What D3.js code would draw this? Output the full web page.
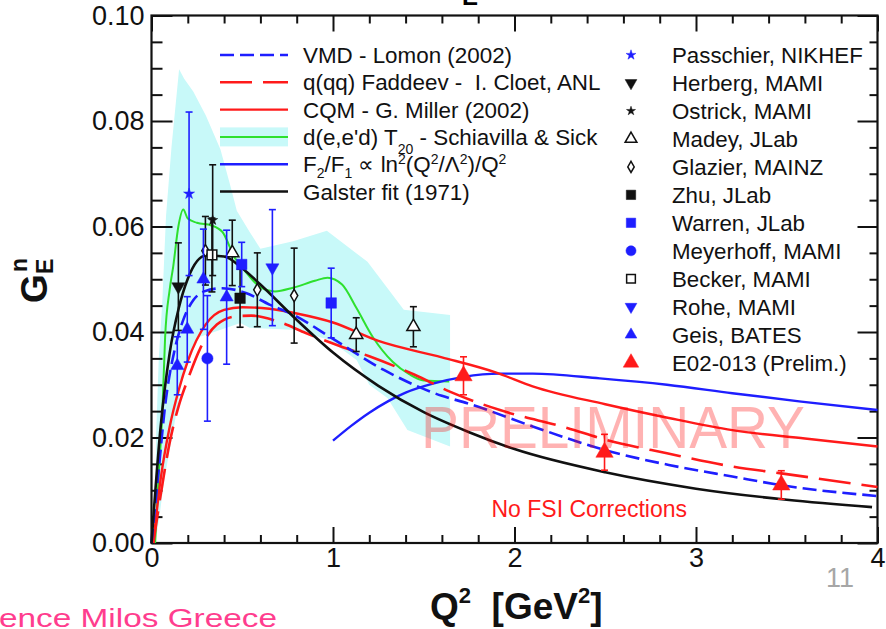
<!DOCTYPE html>
<html>
<head>
<meta charset="utf-8">
<script src="https://cdn.jsdelivr.net/npm/d3@7"></script>
<style>
  html, body { margin: 0; padding: 0; background: #fff; overflow: hidden; }
  text { font-family: "Liberation Sans", Arial, Helvetica, sans-serif; white-space: pre; }
</style>
</head>
<body>
<svg id="chart" width="886" height="629"></svg>
<script>
// ---- axis ticks ----
const xTicks = [0, 1, 2, 3, 4];
const xTickLabels = ["0", "1", "2", "3", "4"];
const yTicks = [0, 0.02, 0.04, 0.06, 0.08, 0.10];
const yTickLabels = ["0.00", "0.02", "0.04", "0.06", "0.08", "0.10"];

// ---- theory curves: [Q^2 (GeV^2), G_E^n] ----
const vmdLomon = [[0,0],[0.04,0.014],[0.075,0.026],[0.13,0.037],[0.175,0.0423],[0.23,0.046],[0.29,0.0477],[0.39,0.0483],[0.52,0.0474],[0.65,0.0452],[0.78,0.0433],[1.0,0.0387],[1.28,0.0328],[1.6,0.0279],[1.74,0.0265],[2.1,0.0221],[2.5,0.0176],[2.85,0.0148],[3.2,0.0126],[3.5,0.0108],[4.0,0.0089]];
const faddeevCloet = [[0.01,0],[0.05,0.009],[0.1,0.019],[0.15,0.026],[0.2,0.031],[0.27,0.037],[0.36,0.0414],[0.47,0.043],[0.55,0.0431],[0.72,0.0417],[0.85,0.0398],[1.04,0.0373],[1.2,0.0354],[1.45,0.0319],[1.65,0.0286],[1.92,0.0252],[2.29,0.0218],[2.5,0.0196],[2.84,0.017],[3.2,0.0145],[3.47,0.0132],[4.0,0.0106]];
const cqmMiller = [[0.01,0],[0.05,0.012],[0.1,0.022],[0.15,0.029],[0.2,0.0345],[0.3,0.0415],[0.4,0.0442],[0.5,0.0447],[0.65,0.0444],[0.8,0.0435],[1.0,0.0418],[1.25,0.0383],[1.6,0.0352],[1.9,0.0323],[2.1,0.0297],[2.5,0.0263],[2.85,0.0237],[3.2,0.0214],[3.6,0.0198],[4.0,0.0183]];
const schiavillaSick = [[0.02,0],[0.04,0.013],[0.06,0.025],[0.075,0.039],[0.1,0.048],[0.12,0.0525],[0.148,0.060],[0.175,0.0632],[0.2,0.0615],[0.25,0.0607],[0.33,0.0602],[0.39,0.059],[0.46,0.054],[0.51,0.0518],[0.6,0.0485],[0.68,0.0477],[0.78,0.0484],[0.9,0.0497],[0.97,0.0503],[1.05,0.049],[1.13,0.0445],[1.22,0.039],[1.33,0.0343],[1.42,0.032],[1.5,0.0308],[1.64,0.0306]];
const schiavillaBandUpper = [[0.02,0],[0.025,0.02],[0.04,0.035],[0.06,0.046],[0.08,0.062],[0.11,0.075],[0.152,0.0898],[0.18,0.088],[0.23,0.0856],[0.3,0.081],[0.38,0.0746],[0.44,0.067],[0.47,0.063],[0.54,0.059],[0.6,0.0558],[0.78,0.0572],[0.966,0.0592],[1.19,0.0533],[1.39,0.0442],[1.645,0.0432]];
const schiavillaBandLower = [[1.645,0.0183],[1.41,0.0214],[1.3,0.0275],[1.2,0.030],[1.13,0.0347],[0.98,0.0385],[0.8,0.0404],[0.54,0.0408],[0.49,0.0417],[0.26,0.039],[0.175,0.032],[0.11,0.0195],[0.07,0.012],[0.04,0.004],[0.02,0]];
const pqcdScaling = [[1.0,0.0194],[1.1,0.0222],[1.2,0.0247],[1.3,0.0268],[1.4,0.0285],[1.55,0.0302],[1.72,0.0315],[1.92,0.0321],[2.1,0.0321],[2.47,0.0312],[2.84,0.030],[3.2,0.0284],[3.58,0.0268],[4.0,0.0252]];
const galsterFit = [[0,0],[0.05,0.0219],[0.1,0.036],[0.15,0.0445],[0.2,0.0501],[0.3,0.0545],[0.4,0.0543],[0.5,0.0521],[0.6,0.049],[0.8,0.0423],[1.0,0.0361],[1.25,0.0298],[1.5,0.0248],[1.75,0.021],[2.0,0.0178],[2.5,0.0134],[3.0,0.0103],[3.5,0.0082],[3.97,0.0068]];

// ---- measurements: [Q^2, G_E^n, error] ----
const passchier = [[0.207,0.0662,0.0155]];
const herberg   = [[0.148,0.0486,0.0083]];
const ostrick   = [[0.337,0.0612,0.0105]];
const madey     = [[0.445,0.0550,0.0062],[1.128,0.0395,0.0032],[1.443,0.0410,0.0038]];
const glazier   = [[0.297,0.0554,0.0065],[0.583,0.0480,0.0070],[0.786,0.0469,0.0090]];
const zhu       = [[0.488,0.0464,0.0055]];
const warren    = [[0.497,0.0528,0.0042],[0.990,0.0455,0.0066]];
const meyerhoff = [[0.308,0.0350,0.0119]];
const becker    = [[0.333,0.0546,0.0070]];
const rohe      = [[0.666,0.0522,0.0110]];
const geis      = [[0.142,0.0336,0.0055],[0.197,0.0405,0.0062],[0.286,0.0500,0.0095],[0.414,0.0466,0.0127]];
const e02013    = [[1.719,0.0317,0.0036],[2.496,0.0172,0.0034],[3.470,0.0110,0.0027]];

const BLUE = "#1e1eff", RED = "#ff1a1a", GREEN = "#2ee02e", BLACK = "#111", CYAN = "#c8f9f9";

const svg = d3.select("#chart");
const x = d3.scaleLinear().domain([0, 4]).range([151.5, 877.5]);
const y = d3.scaleLinear().domain([0, 0.1]).range([543, 15.5]);

// small visible piece of the heading above the frame
svg.append("text").attr("x", 462).attr("y", 4.5).attr("font-size", 24).attr("font-weight", "bold").text("E");

// ---- band ----
const bandPts = schiavillaBandUpper.concat(schiavillaBandLower);
svg.append("path")
  .attr("d", d3.line().x(d => x(d[0])).y(d => y(d[1]))(bandPts) + "Z")
  .attr("fill", CYAN).attr("stroke", "none");

// ---- frame & axes ----
const minorX = d3.range(0, 4.001, 0.2).filter(v => Math.abs(v - Math.round(v)) > 1e-6);
const minorY = d3.range(0, 0.1001, 0.005).filter(v => Math.abs(v * 50 - Math.round(v * 50)) > 1e-6);

function styleAxis(g) {
  g.select(".domain").remove();
  g.selectAll("line").attr("stroke", BLACK).attr("stroke-width", 2);
}
svg.append("g").attr("transform", `translate(0,${y(0)})`)
  .call(d3.axisBottom(x).tickValues(xTicks).tickSize(-16).tickPadding(5).tickFormat((d, i) => xTickLabels[i]))
  .call(styleAxis)
  .call(g => g.selectAll("text").attr("font-size", 27).attr("fill", BLACK).attr("font-family", "Liberation Sans, Arial, sans-serif"));
svg.append("g").attr("transform", `translate(0,${y(0)})`)
  .call(d3.axisBottom(x).tickValues(minorX).tickSize(-8).tickFormat(""))
  .call(styleAxis);
svg.append("g").attr("transform", `translate(0,${y(0.1)})`)
  .call(d3.axisTop(x).tickValues(xTicks).tickSize(-16).tickFormat(""))
  .call(styleAxis);
svg.append("g").attr("transform", `translate(0,${y(0.1)})`)
  .call(d3.axisTop(x).tickValues(minorX).tickSize(-8).tickFormat(""))
  .call(styleAxis);
svg.append("g").attr("transform", `translate(${x(0)},0)`)
  .call(d3.axisLeft(y).tickValues(yTicks).tickSize(-21).tickPadding(7).tickFormat((d, i) => yTickLabels[i]))
  .call(styleAxis)
  .call(g => g.selectAll("text").attr("font-size", 27).attr("fill", BLACK).attr("font-family", "Liberation Sans, Arial, sans-serif"));
svg.append("g").attr("transform", `translate(${x(0)},0)`)
  .call(d3.axisLeft(y).tickValues(minorY).tickSize(-11).tickFormat(""))
  .call(styleAxis);
svg.append("g").attr("transform", `translate(${x(4)},0)`)
  .call(d3.axisRight(y).tickValues(yTicks).tickSize(-20).tickFormat(""))
  .call(styleAxis);
svg.append("g").attr("transform", `translate(${x(4)},0)`)
  .call(d3.axisRight(y).tickValues(minorY).tickSize(-8).tickFormat(""))
  .call(styleAxis);
svg.append("rect").attr("x", x(0)).attr("y", y(0.1)).attr("width", x(4) - x(0)).attr("height", y(0) - y(0.1))
  .attr("fill", "none").attr("stroke", BLACK).attr("stroke-width", 2.2);

// ---- curves ----
const line = d3.line().x(d => x(d[0])).y(d => y(d[1])).curve(d3.curveMonotoneX);
const curves = [
  { data: schiavillaSick, color: GREEN, dash: null, w: 2 },
  { data: pqcdScaling, color: BLUE, dash: null, w: 2.4 },
  { data: cqmMiller, color: RED, dash: null, w: 2.4 },
  { data: faddeevCloet, color: RED, dash: "32,11", w: 2.6 },
  { data: vmdLomon, color: BLUE, dash: "14,6", w: 2.6 },
  { data: galsterFit, color: BLACK, dash: null, w: 2.6 }
];
curves.forEach(c => {
  svg.append("path").attr("d", line(c.data)).attr("fill", "none")
    .attr("stroke", c.color).attr("stroke-width", c.w)
    .attr("stroke-dasharray", c.dash);
});

// ---- data points ----
const sets = [
  { data: madey, color: BLACK, sym: d3.symbolTriangle, size: 75, open: true },
  { data: glazier, color: BLACK, sym: d3.symbolDiamond, size: 45, open: true },
  { data: becker, color: BLACK, sym: d3.symbolSquare, size: 95, open: true },
  { data: herberg, color: BLACK, sym: d3.symbolTriangle, size: 75, down: true },
  { data: ostrick, color: BLACK, sym: d3.symbolStar, size: 32 },
  { data: zhu, color: BLACK, sym: d3.symbolSquare, size: 110 },
  { data: passchier, color: BLUE, sym: d3.symbolStar, size: 38 },
  { data: meyerhoff, color: BLUE, sym: d3.symbolCircle, size: 100 },
  { data: warren, color: BLUE, sym: d3.symbolSquare, size: 110 },
  { data: rohe, color: BLUE, sym: d3.symbolTriangle, size: 75, down: true },
  { data: geis, color: BLUE, sym: d3.symbolTriangle, size: 75 },
  { data: e02013, color: RED, sym: d3.symbolTriangle, size: 130 }
];
function drawMarker(g, s, cx, cy) {
  g.append("path")
    .attr("d", d3.symbol().type(s.sym).size(s.size)())
    .attr("transform", `translate(${cx},${cy})` + (s.down ? " rotate(180)" : ""))
    .attr("fill", s.open ? "#fff" : s.color)
    .attr("stroke", s.color).attr("stroke-width", s.open ? 1.5 : 0.5);
}
sets.forEach(s => {
  const g = svg.append("g");
  s.data.forEach(([q, v, e]) => {
    const cx = x(q);
    g.append("line").attr("x1", cx).attr("x2", cx).attr("y1", y(v + e)).attr("y2", y(v - e))
      .attr("stroke", s.color).attr("stroke-width", 1.6);
    [v + e, v - e].forEach(t => g.append("line").attr("x1", cx - 3.5).attr("x2", cx + 3.5)
      .attr("y1", y(t)).attr("y2", y(t)).attr("stroke", s.color).attr("stroke-width", 1.6));
    drawMarker(g, s, cx, y(v));
  });
});

// ---- rich text helper (sub/superscripts) ----
function richText(parent, x0, y0, parts, size, attrs) {
  const t = parent.append("text").attr("x", x0).attr("y", y0).attr("font-size", size);
  Object.entries(attrs || {}).forEach(([k, v]) => t.attr(k, v));
  let off = 0;
  parts.forEach(p => {
    const target = p.s === "sub" ? p.shift || 0.55 * size : p.s === "sup" ? -(p.shift || 0.4 * size) : 0;
    t.append("tspan").attr("dy", target - off)
      .attr("font-size", p.s ? (p.size || 0.68 * size) : size).text(p.t);
    off = target;
  });
  return t;
}

// ---- left legend (theory) ----
const legL = svg.append("g");
const legLRows = [
  { c: vmdLomon, parts: [{ t: "VMD - Lomon (2002)" }] },
  { c: faddeevCloet, parts: [{ t: "q(qq) Faddeev -  I. Cloet, ANL" }] },
  { c: cqmMiller, parts: [{ t: "CQM - G. Miller (2002)" }] },
  { c: schiavillaSick, band: true, parts: [{ t: "d(e,e'd) T" }, { t: "20", s: "sub", shift: 9, size: 14 }, { t: " - Schiavilla & Sick" }] },
  { c: pqcdScaling, parts: [{ t: "F" }, { t: "2", s: "sub", shift: 6, size: 14 }, { t: "/F" }, { t: "1", s: "sub", shift: 6, size: 14 }, { t: " \u221D ln" }, { t: "2", s: "sup", shift: 8, size: 14 }, { t: "(Q" }, { t: "2", s: "sup", shift: 8, size: 14 }, { t: "/\u039B" }, { t: "2", s: "sup", shift: 8, size: 14 }, { t: ")/Q" }, { t: "2", s: "sup", shift: 8, size: 14 }] },
  { c: galsterFit, parts: [{ t: "Galster fit (1971)" }] }
];
legLRows.forEach((r, i) => {
  const cy = 55 + i * 27.3;
  const spec = curves.find(c => c.data === r.c);
  if (r.band) legL.append("rect").attr("x", 220).attr("y", cy - 9.5).attr("width", 68).attr("height", 19).attr("fill", CYAN);
  legL.append("line").attr("x1", 220).attr("x2", 288).attr("y1", cy).attr("y2", cy)
    .attr("stroke", spec.color).attr("stroke-width", spec.w).attr("stroke-dasharray", spec.dash);
  richText(legL, 303, cy + 8, r.parts, 22.4, { fill: "#111" });
});

// ---- right legend (data) ----
const legR = svg.append("g");
const legRNames = ["Passchier, NIKHEF", "Herberg, MAMI", "Ostrick, MAMI", "Madey, JLab", "Glazier, MAINZ", "Zhu, JLab", "Warren, JLab", "Meyerhoff, MAMI", "Becker, MAMI", "Rohe, MAMI", "Geis, BATES", "E02-013 (Prelim.)"];
const legRSets = [passchier, herberg, ostrick, madey, glazier, zhu, warren, meyerhoff, becker, rohe, geis, e02013];
legRSets.forEach((d, i) => {
  const cy = 55 + i * 27.97;
  const s = sets.find(ss => ss.data === d);
  drawMarker(legR, Object.assign({}, s, { size: s.size * 0.8 }), 631, cy);
  legR.append("text").attr("x", 672).attr("y", cy + 8).attr("font-size", 22.3).attr("fill", "#111").text(legRNames[i]);
});

// ---- annotations ----
svg.append("text").attr("x", 491.5).attr("y", 517).attr("font-size", 23).attr("fill", RED).text("No FSI Corrections");

// axis titles
richText(svg, 430, 619, [{ t: "Q" }, { t: "2", s: "sup", shift: 16, size: 22 }, { t: "  [GeV" }, { t: "2", s: "sup", shift: 16, size: 22 }, { t: "]" }], 37, { "font-weight": "bold", fill: "#111" });
const yl = svg.append("g").attr("transform", "translate(47,303) rotate(-90)");
yl.append("text").attr("x", 0).attr("y", 0).attr("font-size", 37).attr("font-weight", "bold").attr("fill", "#111").text("G");
yl.append("text").attr("x", 29).attr("y", 6).attr("font-size", 23).attr("font-weight", "bold").attr("fill", "#111").text("E");
yl.append("text").attr("x", 31).attr("y", -20).attr("font-size", 23).attr("font-weight", "bold").attr("fill", "#111").text("n");

// slide footer
svg.append("text").attr("x", 826).attr("y", 587).attr("font-size", 27).attr("fill", "#a6a6a6")
  .attr("font-family", "'Open Sans', sans-serif").text("11");
svg.append("text").attr("x", -1).attr("y", 627).attr("font-size", 25).attr("fill", "#ff3d8e")
  .attr("font-family", "'Comic Sans MS', 'Comic Neue', 'DejaVu Sans', sans-serif")
  .attr("textLength", 278).attr("lengthAdjust", "spacingAndGlyphs").text("ence Milos Greece");

// watermark on top
svg.append("text").attr("x", 421).attr("y", 448).attr("font-size", 59).attr("fill", "rgba(255,0,0,0.3)")
  .attr("textLength", 384).attr("lengthAdjust", "spacingAndGlyphs").text("PRELIMINARY");
</script>
</body>
</html>
